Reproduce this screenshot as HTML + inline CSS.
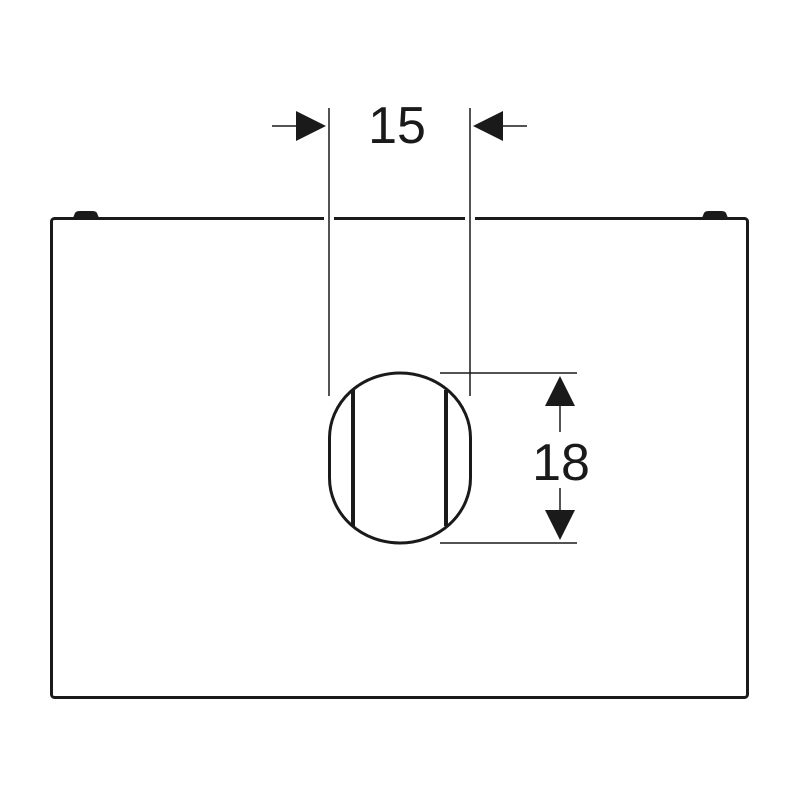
<!DOCTYPE html>
<html><head><style>body{margin:0;background:#fff}</style></head><body>
<svg width="800" height="800" viewBox="0 0 800 800" xmlns="http://www.w3.org/2000/svg">
<rect width="800" height="800" fill="#fff"/>
<g fill="#1a1a1a">
<path d="M73,218 L75,213 Q76,211 80,211 L92,211 Q96,211 97,213 L99,218 Z"/>
<path d="M702,218 L704,213 Q705,211 709,211 L721,211 Q725,211 726,213 L728,218 Z"/>
</g>
<rect x="51.5" y="218.5" width="696" height="479" rx="3" fill="none" stroke="#1a1a1a" stroke-width="3"/>
<rect x="324" y="214" width="10" height="8" fill="#fff"/>
<rect x="465" y="214" width="10" height="8" fill="#fff"/>
<g stroke="#1a1a1a" fill="none">
<line x1="329" y1="108" x2="329" y2="396" stroke-width="1.5"/>
<line x1="470" y1="108" x2="470" y2="396" stroke-width="1.5"/>
<line x1="272" y1="126" x2="298" y2="126" stroke-width="1.5"/>
<line x1="500" y1="126" x2="527" y2="126" stroke-width="1.5"/>
<line x1="440" y1="373" x2="577" y2="373" stroke-width="1.5"/>
<line x1="440" y1="543" x2="577" y2="543" stroke-width="1.5"/>
<line x1="560" y1="404" x2="560" y2="432" stroke-width="1.5"/>
<line x1="560" y1="488" x2="560" y2="512" stroke-width="1.5"/>
<path d="M329.5,438 A70.5,65 0 0 1 470.5,438 L470.5,478 A70.5,65 0 0 1 329.5,478 Z" stroke-width="3" fill="#fff"/>
<line x1="353" y1="390" x2="353" y2="526" stroke-width="4"/>
<line x1="446" y1="390" x2="446" y2="526" stroke-width="4"/>
</g>
<g fill="#1a1a1a">
<path d="M296,111 L326,126 L296,141 Z"/>
<path d="M503,111 L473,126 L503,141 Z"/>
<path d="M545,406 L560,376 L575,406 Z"/>
<path d="M545,510 L560,540 L575,510 Z"/>
</g>
<g font-family="Liberation Sans, sans-serif" font-size="52" fill="#1a1a1a" text-anchor="middle">
<text x="397" y="143">15</text>
<text x="561" y="480">18</text>
</g>
</svg>
</body></html>
